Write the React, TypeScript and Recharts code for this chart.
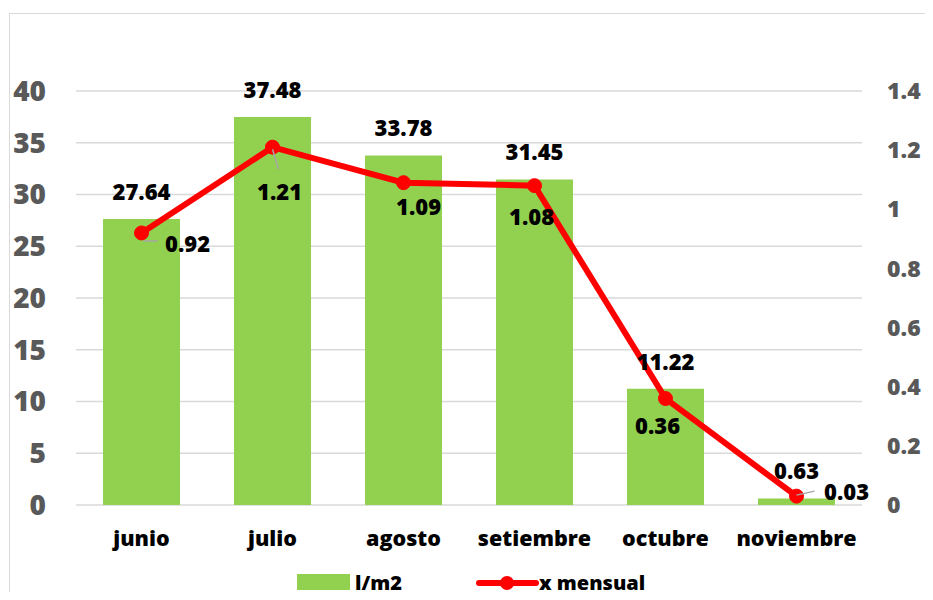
import React from 'react';
import { ComposedChart, Bar, Line, XAxis, YAxis, CartesianGrid, LabelList } from 'recharts';

const months = ['junio', 'julio', 'agosto', 'setiembre', 'octubre', 'noviembre'];
const rainfall = [27.64, 37.48, 33.78, 31.45, 11.22, 0.63];
const monthlyRatio = [0.92, 1.21, 1.09, 1.08, 0.36, 0.03];
const leftTicks = [0, 5, 10, 15, 20, 25, 30, 35, 40];
const rightTicks = [0, 0.2, 0.4, 0.6, 0.8, 1, 1.2, 1.4];

// where each line label sits relative to its point, plus the little grey leader lines
const lineLabelOffsets = [[46, 11], [7, 45], [15, 24], [-3, 31], [-8, 27], [50, -4]];
const leaders: (number[] | null)[] = [
    [2, 8, 16, 8],
    [0, 2, 6, 22],
    null,
    null,
    null,
    [0, -1, 18, -5],
];

const font = '"Open Sans", sans-serif';
const weight = 800;
const green = '#92d050';
const red = '#ff0000';

const data = months.map((m, i) => ({
    month: m,
    rainfall: rainfall[i],
    ratio: monthlyRatio[i],
}));

const LineLabel = (props: any) => {
    const vb = props.viewBox || {};
    const x = props.x ?? vb.x;
    const y = props.y ?? vb.y;
    const index = props.index ?? 0;
    if (x == null || y == null) return null;
    const [dx, dy] = lineLabelOffsets[index] || [0, 0];
    const leader = leaders[index];
    return (
        <g>
            {leader && (
                <line
                    x1={x + leader[0]}
                    y1={y + leader[1]}
                    x2={x + leader[2]}
                    y2={y + leader[3]}
                    stroke="#a6a6a6"
                    strokeWidth={1.5}
                />
            )}
            <text
                x={x + dx}
                y={y + dy + 8}
                textAnchor="middle"
                fill="#000"
                fontSize={22}
                fontWeight={weight}
                fontFamily={font}
            >
                {props.value}
            </text>
        </g>
    );
};

const ChartLegend = () => (
    <svg width={922} height={40} style={{ position: 'absolute', left: 0, top: 551 }}>
        <rect x={287} y={9} width={53} height={16} fill={green} />
        <text x={345} y={25} fontSize={20} fontWeight={weight} fontFamily={font} fill="#000">l/m2</text>
        <line x1={469} y1={18} x2={526} y2={18} stroke={red} strokeWidth={6} strokeLinecap="round" />
        <circle cx={497} cy={18} r={7} fill={red} />
        <text x={529} y={25} fontSize={20} fontWeight={weight} fontFamily={font} fill="#000">x mensual</text>
    </svg>
);

export default function App() {
    return (
        <div style={{ paddingTop: 5, paddingLeft: 1 }}>
            <div
                style={{
                    position: 'relative',
                    width: 922,
                    height: 578,
                    border: '1px solid #d9d9d9',
                    borderBottom: 'none',
                    background: '#fff',
                    fontFamily: font,
                }}
            >
                <ComposedChart
                    width={922}
                    height={551}
                    data={data}
                    margin={{ top: 77, right: 0, bottom: 0, left: 0 }}
                >
                    <CartesianGrid yAxisId="left" vertical={false} stroke="#d9d9d9" strokeWidth={1.5} />
                    <XAxis
                        dataKey="month"
                        axisLine={false}
                        tickLine={false}
                        tickSize={0}
                        tickMargin={26}
                        height={60}
                        interval={0}
                        tick={{ fill: '#000', fontSize: 21.5, fontWeight: weight, fontFamily: font }}
                    />
                    <YAxis
                        yAxisId="left"
                        width={66}
                        domain={[0, 40]}
                        ticks={leftTicks}
                        axisLine={false}
                        tickLine={false}
                        tickSize={0}
                        tickMargin={30}
                        tick={{ fill: '#595959', fontSize: 28, fontWeight: weight, fontFamily: font }}
                    />
                    <YAxis
                        yAxisId="right"
                        orientation="right"
                        width={70}
                        domain={[0, 1.4]}
                        ticks={rightTicks}
                        axisLine={false}
                        tickLine={false}
                        tickSize={0}
                        tickMargin={25}
                        tickFormatter={(v: number) => String(Math.round(v * 10) / 10)}
                        tick={{ fill: '#595959', fontSize: 23, fontWeight: weight, fontFamily: font }}
                    />
                    <Bar yAxisId="left" dataKey="rainfall" fill={green} barSize={77} isAnimationActive={false}>
                        <LabelList
                            dataKey="rainfall"
                            position="top"
                            offset={19}
                            fill="#000"
                            fontSize={22}
                            fontWeight={weight}
                            fontFamily={font}
                        />
                    </Bar>
                    <Line
                        yAxisId="right"
                        type="linear"
                        dataKey="ratio"
                        stroke={red}
                        strokeWidth={6}
                        dot={{ r: 7, fill: red, stroke: red, strokeWidth: 1 }}
                        activeDot={false}
                        isAnimationActive={false}
                    >
                        <LabelList dataKey="ratio" content={LineLabel} />
                    </Line>
                </ComposedChart>
                <ChartLegend />
            </div>
        </div>
    );
}
